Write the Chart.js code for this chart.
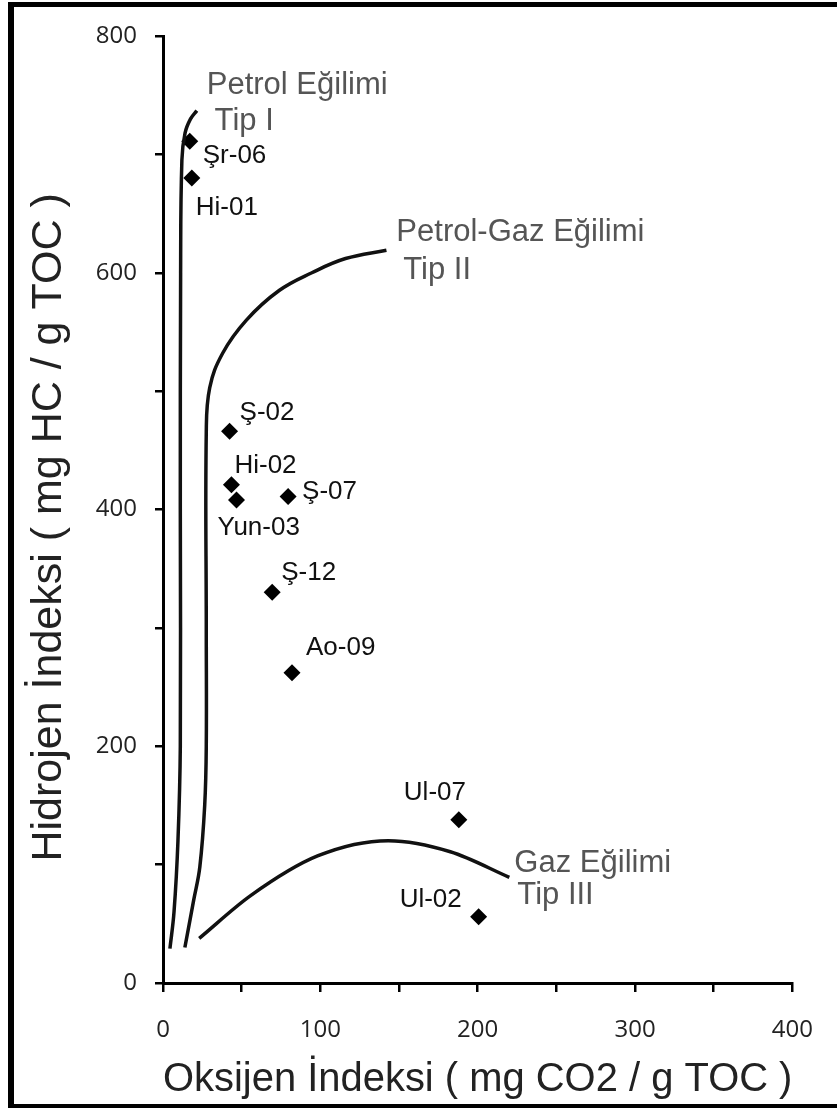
<!DOCTYPE html>
<html>
<head>
<meta charset="utf-8">
<script src="https://cdn.jsdelivr.net/npm/chart.js@4"></script>
<style>
body{margin:0;background:#fff;}
#wrap{position:relative;width:837px;height:1108px;overflow:hidden;}
#frame{position:absolute;left:8px;top:2px;width:900px;height:1106px;box-sizing:border-box;
border-left:6px solid #000;border-top:5px solid #000;border-bottom:4px solid #000;pointer-events:none;}
</style>
</head>
<body>
<div id="wrap">
<canvas id="vanKrevelen" width="837" height="1108"></canvas>
<div id="frame"></div>
</div>
<script>

// SAMPLES

const sampleNames = ["Şr-06","Hi-01","Ş-02","Hi-02","Yun-03","Ş-07","Ş-12","Ao-09","Ul-07","Ul-02"];
const oxygenIndex = [17, 18.3, 42.3, 43.5, 46.7, 79.5, 69.4, 82, 188, 200.6];
const hydrogenIndex = [711, 680, 466, 421, 408, 411, 330, 262, 138, 56];

// KEROGEN TYPE CURVES

const typeI_x = [4.4, 7, 9.5, 11, 11, 11.2, 12, 14, 17.5, 21.5];
const typeI_y = [29, 60, 120, 200, 400, 600, 695, 718, 730, 737];

const typeII_x = [13.9, 19.5, 23.4, 26.5, 27.5, 27.5, 27.5, 29.7, 37.9, 53, 73.8, 94.6, 116, 142];
const typeII_y = [30, 70, 98, 150, 200, 300, 465, 503, 532, 560, 585, 600, 612, 619];

const typeIII_x = [23, 55.9, 98.2, 143.2, 182.6, 220.1];
const typeIII_y = [37.7, 74, 107.3, 120.2, 110.9, 89.3];

// CURVE NAMES

const groupTexts = ["Petrol Eğilimi","Tip I","Petrol-Gaz Eğilimi","Tip II","Gaz Eğilimi","Tip III"];
const groupX = [27.8, 32.8, 148.3, 152.7, 223.3, 225.2];
const groupY = [758.6, 727.4, 634.4, 602.3, 101.4, 74.3];

// label offsets in px (left edge, middle)
const labelOffsets = [[13,14],[4,30],[10,-19],[3,-19],[-19,28],[14,-5],[9,-20],[14,-25],[-55,-27],[-79,-17]];

const toPoints = (xs, ys) => xs.map((x, i) => ({x: x, y: ys[i]}));

const curve = (xs, ys, mode) => ({
type:"scatter",
data:toPoints(xs, ys),
showLine:true,
tension:0.4,
cubicInterpolationMode:mode || "default",
borderColor:"#111",
borderWidth:3.5,
pointRadius:0,
fill:false
});


// TEXT PLUGIN

const textPlugin = {
id:"texts",
afterDatasetsDraw(chart){
const ctx = chart.ctx;
const sx = chart.scales.x, sy = chart.scales.y;
ctx.save();
ctx.textAlign = "left";
ctx.textBaseline = "middle";

ctx.fillStyle = "#555";
ctx.font = "31px 'Liberation Sans', Arial, sans-serif";
groupTexts.forEach((t, i) => {
ctx.fillText(t, sx.getPixelForValue(groupX[i]), sy.getPixelForValue(groupY[i]));
});

ctx.fillStyle = "#111";
ctx.font = "26px 'Liberation Sans', Arial, sans-serif";
const meta = chart.getDatasetMeta(3);
meta.data.forEach((pt, i) => {
ctx.fillText(sampleNames[i], pt.x + labelOffsets[i][0], pt.y + labelOffsets[i][1]);
});
ctx.restore();
}
};


new Chart(

document.getElementById("vanKrevelen"),

{

type:"scatter",

data:{

datasets:[

curve(typeI_x, typeI_y),

curve(typeII_x, typeII_y),

curve(typeIII_x, typeIII_y, "monotone"),

{
label:"Numuneler",
data:toPoints(oxygenIndex, hydrogenIndex),
pointStyle:"rectRot",
pointRadius:8.5,
backgroundColor:"#000",
borderWidth:0
}

]

},

options:{

responsive:false,
animation:false,
devicePixelRatio:1,

layout:{padding:{left:12, top:36, right:40, bottom:0}},

plugins:{
legend:{display:false},
tooltip:{enabled:false}
},

scales:{

x:{
type:"linear",
min:0,
max:400,
afterFit:s => { s.height = 125; },
border:{color:"#000", width:3},
grid:{drawOnChartArea:false, drawTicks:true, tickLength:9, color:"#000", lineWidth:2.5},
ticks:{
stepSize:50,
autoSkip:false,
maxRotation:0,
padding:24,
color:"#222",
font:{family:"'Open Sans'", size:24},
callback:v => (v % 100 === 0 ? String(v) : "")
},
title:{
display:true,
text:"Oksijen İndeksi ( mg CO2 / g TOC )",
color:"#222",
padding:{top:0, bottom:4},
font:{family:"'Liberation Sans', Arial", size:41}
}
},

y:{
type:"linear",
min:0,
max:800,
afterFit:s => { s.width = 151; },
border:{color:"#000", width:3},
grid:{drawOnChartArea:false, drawTicks:true, tickLength:8, color:"#000", lineWidth:2.5},
ticks:{
stepSize:100,
autoSkip:false,
padding:18,
color:"#222",
font:{family:"'Open Sans'", size:24},
callback:v => (v % 200 === 0 ? String(v) : "")
},
title:{
display:true,
// trailing spaces push the text a little lower, as in the original
text:"Hidrojen İndeksi ( mg HC / g TOC )   ",
color:"#222",
padding:{top:11, bottom:0},
font:{family:"'Liberation Sans', Arial", size:43}
}
}

}

},

plugins:[textPlugin]

});

</script>
</body>
</html>
